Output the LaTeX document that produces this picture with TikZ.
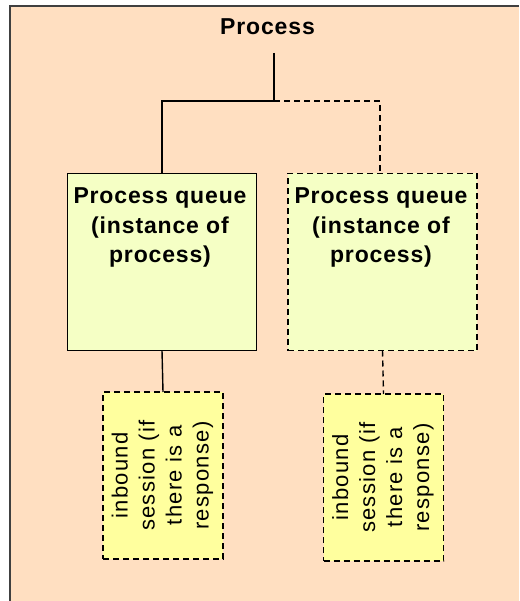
\documentclass[tikz,border=0pt]{standalone}
\usepackage{fontspec}
\setmainfont{Liberation Sans}
\newfontfamily\spacedsans[LetterSpace=3.7]{Liberation Sans}
\newfontfamily\widesans[LetterSpace=6]{Liberation Sans}
\definecolor{peach}{HTML}{FFDFC1}
\definecolor{queuefill}{HTML}{F5FFC5}
\definecolor{sessionfill}{HTML}{FFFF9E}
\definecolor{framegray}{HTML}{404040}
\begin{document}
\begin{tikzpicture}[x=1pt,y=-1pt,
  link/.style={line width=1.4pt, black},
  dashlink/.style={link, dash pattern=on 6pt off 4pt},
  queuebox/.style={draw=black, line width=1.4pt, fill=queuefill,
    minimum width=189pt, minimum height=177pt, inner sep=0pt, outer sep=0pt},
  sessionbox/.style={draw=black, fill=sessionfill, line width=1.4pt,
    dash pattern=on 6pt off 4pt,
    minimum width=120pt, minimum height=167pt, inner sep=0pt, outer sep=0pt},
  queuetext/.style={anchor=north, align=center, inner sep=0pt,
    font=\spacedsans\fontsize{23}{29.5}\selectfont\bfseries},
  sessiontext/.style={rotate=90, align=center, inner sep=0pt,
    font=\widesans\fontsize{22}{27}\selectfont}]
  \useasboundingbox (0,0) rectangle (519,601);
  \fill[white] (0,0) rectangle (519,601);
  % page background and frame
  \fill[peach] (10,6) rectangle (519,601);
  \draw[framegray, line width=2.5pt] (10,601) -- (10,6) -- (519,6);

  % title
  \node[font=\spacedsans\fontsize{23}{28}\selectfont\bfseries, inner sep=0pt] (title) at (267.5,27) {Process};
  \coordinate (stem) at (274,53);
  \coordinate (fork) at (274,101);

  % process queues
  \node[queuebox] (q1) at (162,262) {};
  \node[queuebox, dash pattern=on 6pt off 4pt] (q2) at (382.5,262) {};
  \node[queuetext] (q1text) at (160,187.5) {Process queue\\(instance of\\process)};
  \node[queuetext] (q2text) at (381,187.5) {Process queue\\(instance of\\process)};

  % inbound sessions
  \node[sessionbox] (s1) at (163,475.5) {};
  \node[sessionbox] (s2) at (383.5,477.5) {};
  \node[sessiontext] (s1text) at (162.5,475.5) {inbound\\session (if\\there is a\\response)};
  \node[sessiontext] (s2text) at (383,477.5) {inbound\\session (if\\there is a\\response)};

  % connectors
  \draw[link] (stem) -- (fork) -| (q1.north);
  \draw[dashlink] (fork) -| ([xshift=-2.5pt]q2.north);
  \draw[link] (q1.south) -- (s1.north);
  \draw[dashlink] (q2.south) -- (s2.north);
\end{tikzpicture}
\end{document}
